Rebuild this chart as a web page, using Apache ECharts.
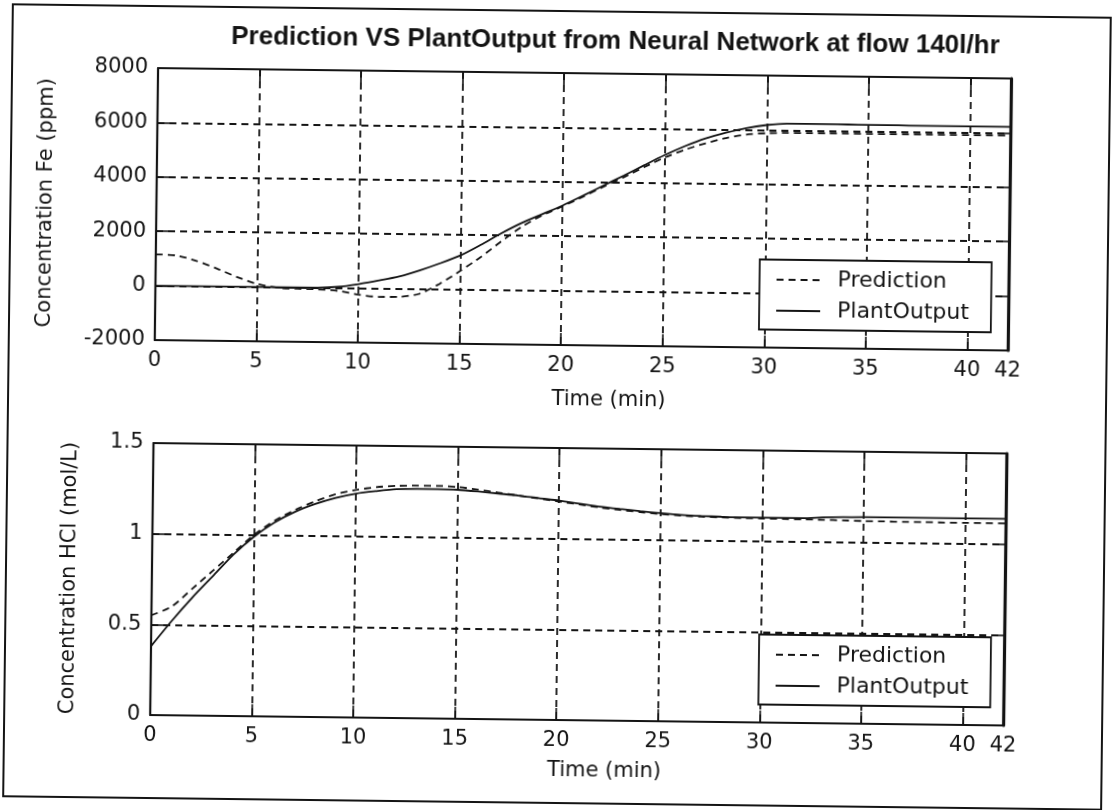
<!DOCTYPE html>
<html>
<head>
<meta charset="utf-8">
<script src="https://cdn.jsdelivr.net/npm/echarts@6/dist/echarts.min.js"></script>
<style>
  html, body { margin: 0; padding: 0; background: #ffffff; overflow: hidden; }
  #chart { width: 1116px; height: 810px; transform: rotate(0.7deg); transform-origin: 558px 405px; }
</style>
</head>
<body>
<div id="chart"></div>
<script>
// Neural-network prediction vs. measured plant output, flow 140 l/hr
const chartTitle = 'Prediction VS PlantOutput from Neural Network at flow 140l/hr';
const seriesNames = ['Prediction', 'PlantOutput'];

// time axis (min)
const timeMin = [0, 1, 2, 3, 4, 5, 6, 7, 8, 9, 10, 11, 12, 13, 14, 15, 16, 17, 18, 19, 20,
  21, 22, 23, 24, 25, 26, 27, 28, 29, 30, 31, 32, 33, 34, 35, 36, 37, 38, 39, 40, 41, 42];
const timeTicks = [0, 5, 10, 15, 20, 25, 30, 35, 40, 42];

// Fe concentration (ppm)
const fePrediction = [1150, 1120, 930, 660, 360, 110, -20, -50, -60, -110, -240, -310, -300, -180, 200,
  680, 1200, 1780, 2330, 2760, 3100, 3460, 3840, 4200, 4580, 4940, 5240, 5480, 5680, 5820, 5880,
  5900, 5900, 5900, 5900, 5900, 5900, 5900, 5900, 5900, 5900, 5900, 5900];
const fePlantOutput = [0, 0, 0, 0, 0, 0, 0, 0, 0, 40, 150, 290, 450, 680, 950,
  1250, 1650, 2080, 2470, 2800, 3130, 3500, 3880, 4260, 4650, 5030, 5370, 5660, 5880, 6060, 6180,
  6240, 6240, 6240, 6235, 6230, 6230, 6225, 6220, 6220, 6220, 6220, 6220];
const feTicks = [-2000, 0, 2000, 4000, 6000, 8000];

// HCl concentration (mol/L)
const hclPrediction = [0.55, 0.60, 0.70, 0.80, 0.90, 1.00, 1.08, 1.14, 1.19, 1.23, 1.255, 1.272, 1.280, 1.283, 1.283,
  1.278, 1.265, 1.250, 1.235, 1.220, 1.205, 1.190, 1.175, 1.163, 1.152, 1.143, 1.136, 1.131, 1.128, 1.126, 1.125,
  1.124, 1.123, 1.122, 1.120, 1.118, 1.117, 1.116, 1.116, 1.115, 1.115, 1.115, 1.115];
const hclPlantOutput = [0.38, 0.52, 0.65, 0.77, 0.89, 0.99, 1.07, 1.13, 1.175, 1.21, 1.235, 1.25, 1.262, 1.265, 1.265,
  1.263, 1.255, 1.245, 1.235, 1.222, 1.21, 1.195, 1.18, 1.168, 1.157, 1.148, 1.14, 1.135, 1.132, 1.13, 1.13,
  1.13, 1.13, 1.135, 1.138, 1.14, 1.14, 1.14, 1.14, 1.14, 1.14, 1.14, 1.14];
const hclTicks = [0, 0.5, 1, 1.5];

const ink = '#141414';
const sans = 'DejaVu Sans';
const gridDash = { color: ink, width: 1.8, type: [7, 5] };

const pairs = (xs, ys) => xs.map((x, i) => [x, ys[i]]);
const stepOf = (ticks) => ticks[1] - ticks[0];

const frameLine = (w) => ({ show: true, onZero: false, lineStyle: { color: ink, width: w } });
const innerTick = { show: true, inside: true, length: 12, lineStyle: { color: ink, width: 1.6 } };

function bottomAxis(grid) {
  return {
    type: 'value', gridIndex: grid, position: 'bottom',
    min: timeTicks[0], max: timeTicks[timeTicks.length - 1], interval: stepOf(timeTicks),
    axisLine: frameLine(2.2), axisTick: innerTick,
    axisLabel: { color: ink, fontFamily: sans, fontSize: 21, margin: 10 },
    splitLine: { show: true, lineStyle: gridDash },
    name: 'Time (min)', nameLocation: 'middle', nameGap: grid === 0 ? 44 : 40,
    nameTextStyle: { color: ink, fontFamily: sans, fontSize: 21, padding: [0, 0, 0, 56] }
  };
}
function topAxis(grid) {
  return {
    type: 'value', gridIndex: grid, position: 'top',
    min: timeTicks[0], max: timeTicks[timeTicks.length - 1], interval: stepOf(timeTicks),
    axisLine: frameLine(2.2), axisTick: innerTick,
    axisLabel: { show: false }, splitLine: { show: false }
  };
}
function leftAxis(grid, ticks, name, gap) {
  return {
    type: 'value', gridIndex: grid, position: 'left',
    min: ticks[0], max: ticks[ticks.length - 1], interval: stepOf(ticks),
    axisLine: frameLine(2.2), axisTick: innerTick,
    axisLabel: { color: ink, fontFamily: sans, fontSize: 21, margin: 10, formatter: (v) => String(v) },
    splitLine: { show: true, lineStyle: gridDash },
    name: name, nameLocation: 'middle', nameRotate: 90, nameGap: gap,
    nameTextStyle: { color: ink, fontFamily: sans, fontSize: 21 }
  };
}
function rightAxis(grid, ticks) {
  return {
    type: 'value', gridIndex: grid, position: 'right',
    min: ticks[0], max: ticks[ticks.length - 1], interval: stepOf(ticks),
    axisLine: frameLine(3.2), axisTick: innerTick,
    axisLabel: { show: false }, splitLine: { show: false }
  };
}
function curve(name, grid, ys, dashed) {
  return {
    type: 'line', name: name, xAxisIndex: grid * 2, yAxisIndex: grid * 2,
    data: pairs(timeMin, ys), symbol: 'none', smooth: 0.25, z: 3,
    lineStyle: { color: ink, width: 1.8, type: dashed ? [7, 5] : 'solid' },
    itemStyle: { color: ink }
  };
}
function legendBox(left, top) {
  return {
    data: seriesNames, orient: 'vertical', left: left, top: top,
    itemWidth: 44, itemHeight: 2, itemGap: 9, selectedMode: false,
    padding: [9, 22, 8, 16], borderColor: ink, borderWidth: 1.8, backgroundColor: '#ffffff',
    itemStyle: { color: 'rgba(0,0,0,0)', borderColor: 'rgba(0,0,0,0)', borderWidth: 0 },
    textStyle: { color: ink, fontFamily: sans, fontSize: 22, padding: [0, 0, 0, 12] }
  };
}

const chart = echarts.init(document.getElementById('chart'));
chart.setOption({
  backgroundColor: '#ffffff',
  animation: false,
  title: {
    text: chartTitle, left: 606, top: 23, textAlign: 'center',
    textStyle: { color: ink, fontFamily: 'Liberation Sans', fontWeight: 'bold', fontSize: 26 }
  },
  graphic: [{
    type: 'rect', shape: { x: 8, y: 11, width: 1098, height: 792 },
    style: { fill: 'none', stroke: ink, lineWidth: 2 }, silent: true
  }],
  grid: [
    { left: 154, top: 73, width: 853, height: 272 },
    { left: 154, top: 448, width: 853, height: 272 }
  ],
  xAxis: [bottomAxis(0), topAxis(0), bottomAxis(1), topAxis(1)],
  yAxis: [
    leftAxis(0, feTicks, 'Concentration Fe (ppm)', 100), rightAxis(0, feTicks),
    leftAxis(1, hclTicks, 'Concentration HCl (mol/L)', 72), rightAxis(1, hclTicks)
  ],
  legend: [legendBox(758, 257), legendBox(762, 632)],
  series: [
    curve(seriesNames[0], 0, fePrediction, true),
    curve(seriesNames[1], 0, fePlantOutput, false),
    curve(seriesNames[0], 1, hclPrediction, true),
    curve(seriesNames[1], 1, hclPlantOutput, false)
  ]
});
</script>
</body>
</html>
